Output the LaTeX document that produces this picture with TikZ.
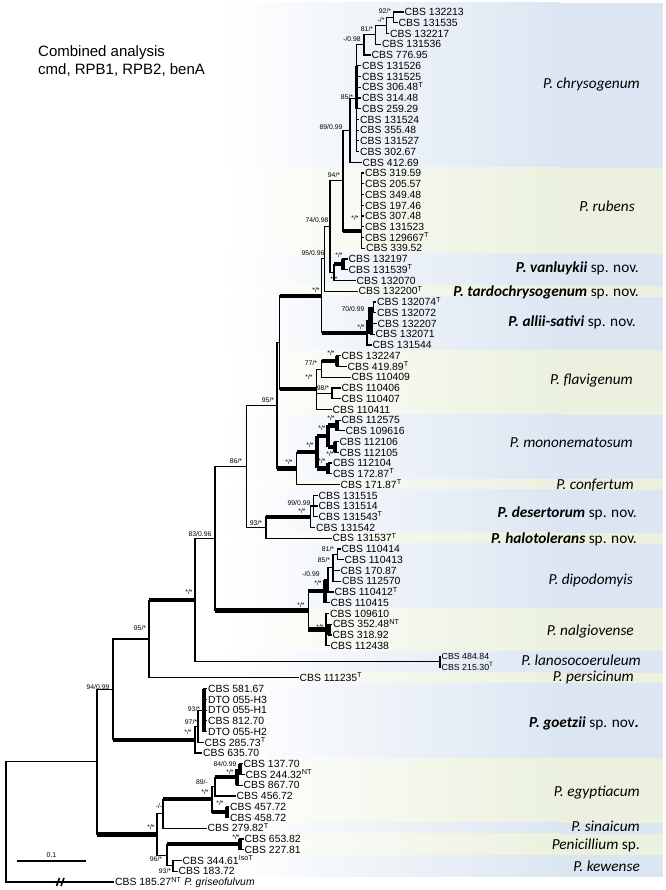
\documentclass[tikz,border=0pt]{standalone}
\usepackage{fontspec}
\setmainfont{Liberation Sans}
\newfontfamily\spfont{Carlito}
\definecolor{bb}{RGB}{220,230,242}
\definecolor{bg}{RGB}{235,241,222}
\newcommand\treev[4][br]{\draw[#1] (#2 |- #3) -- (#2 |- #4);}
\newcommand\treeh[3][br]{\draw[#1] (#2 |- #3) -- (#3);}
\newcommand\bandbox[3]{\shade[left color=white,right color=#3] (220,#1) rectangle (560,#2);\fill[#3] (559.5,#1) rectangle (663,#2);}
\newcommand\Ty{\textsuperscript{T}}
\newcommand\NTy{\textsuperscript{NT}}
\tikzset{
 br/.style={line width=1.2pt,line cap=rect},
 tk/.style={line width=4.2pt},
 tipl/.style={anchor=west,inner sep=0pt,xshift=1.5pt,text height=7.4pt,text depth=0pt,font=\fontsize{10.4}{10}\selectfont},
 supl/.style={inner sep=0pt,text height=4.7pt,text depth=0pt,font=\fontsize{6.8}{7}\selectfont},
 spl/.style={anchor=east,inner sep=0pt,text height=8.4pt,text depth=0pt,font=\spfont\itshape\fontsize{15.3}{16}\selectfont},
}
\begin{document}
\begin{tikzpicture}[x=1pt,y=-1pt]
\useasboundingbox (0,0) rectangle (665,890);
\fill[white] (0,0) rectangle (665,890);
% bands
\bandbox{3}{167.7}{bb}
\bandbox{167.7}{253.6}{bg}
\bandbox{253.6}{285.9}{bb}
\bandbox{285.9}{296.6}{bg}
\bandbox{296.6}{350.3}{bb}
\bandbox{350.3}{414.8}{bg}
\bandbox{414.8}{479.2}{bb}
\bandbox{479.2}{489.9}{bg}
\bandbox{489.9}{532.9}{bb}
\bandbox{532.9}{543.6}{bg}
\bandbox{543.6}{608.1}{bb}
\bandbox{608.1}{651.0}{bg}
\bandbox{651.0}{672.5}{bb}
\bandbox{672.5}{683.2}{bg}
\bandbox{683.2}{758.4}{bb}
\bandbox{758.4}{822.9}{bg}
\bandbox{822.9}{833.6}{bb}
\bandbox{833.6}{855.1}{bg}
\bandbox{855.1}{876.6}{bb}
% title
\node[anchor=west,inner sep=0pt,text height=10.7pt,text depth=0pt,font=\fontsize{15}{15}\selectfont] (title1) at (38,51) {Combined analysis};
\node[anchor=west,inner sep=0pt,text height=10.7pt,text depth=0pt,font=\fontsize{15}{15}\selectfont] (title2) at (38,69.5) {cmd, RPB1, RPB2, benA};
% tips
\foreach \i/\x/\s in {
1/403/CBS 132213, 2/397/CBS 131535, 3/388.5/CBS 132217, 4/380.5/CBS 131536, 5/370/CBS 776.95,
6/360.5/CBS 131526, 7/360.5/CBS 131525, 8/360.5/CBS 306.48\Ty, 9/360.5/CBS 314.48, 10/360.5/CBS 259.29,
11/358.5/CBS 131524, 12/358.5/CBS 355.48, 13/358.5/CBS 131527, 14/358.5/CBS 302.67, 15/361/CBS 412.69,
16/363.5/CBS 319.59, 17/363.5/CBS 205.57, 18/363.5/CBS 349.48, 19/363.5/CBS 197.46, 20/363.5/CBS 307.48,
21/363.5/CBS 131523, 22/363.5/CBS 129667\Ty, 23/364.5/CBS 339.52,
24/347/CBS 132197, 25/347/CBS 131539\Ty, 26/355/CBS 132070, 27/357/CBS 132200\Ty,
28/375.5/CBS 132074\Ty, 29/375.5/CBS 132072, 30/376/CBS 132207, 31/374/CBS 132071, 32/371/CBS 131544,
33/340/CBS 132247, 34/346/CBS 419.89\Ty, 35/350/CBS 110409, 36/340/CBS 110406, 37/340/CBS 110407, 38/331/CBS 110411,
39/340/CBS 112575, 40/344/CBS 109616, 41/338/CBS 112106, 42/338/CBS 112105, 43/331.5/CBS 112104, 44/331.5/CBS 172.87\Ty, 45/339/CBS 171.87\Ty,
46/317/CBS 131515, 47/317/CBS 131514, 48/317/CBS 131543\Ty, 49/314.5/CBS 131542, 50/331/CBS 131537\Ty,
51/340/CBS 110414, 52/343/CBS 110413, 53/339/CBS 170.87, 54/340.5/CBS 112570, 55/333/CBS 110412\Ty, 56/329/CBS 110415,
57/328.5/CBS 109610, 58/331.5/CBS 352.48\NTy, 59/331/CBS 318.92, 60/329/CBS 112438,
63/298/CBS 111235\Ty,
64/206.5/CBS 581.67, 65/206.5/DTO 055-H3, 66/206.5/DTO 055-H1, 67/206.5/CBS 812.70, 68/206.5/DTO 055-H2, 69/203/CBS 285.73\Ty, 70/201.5/CBS 635.70,
71/242/CBS 137.70, 72/244/CBS 244.32\NTy, 73/242/CBS 867.70, 74/235/CBS 456.72, 75/228.5/CBS 457.72, 76/228.5/CBS 458.72, 77/206/CBS 279.82\Ty,
78/243/CBS 653.82, 79/243/CBS 227.81, 80/181/CBS 344.61\textsuperscript{IsoT}, 81/177/CBS 183.72,
82/113.5/CBS 185.27\NTy\ \textit{P. griseofulvum}}{
\coordinate (t\i) at (\x,{12+(\i-1)*10.74});
\node[tipl] (l\i) at (t\i) {\s};
}
\coordinate (t61) at (440,656.4);
\coordinate (t62) at (440,667.14);
\node[tipl,font=\fontsize{8.8}{9}\selectfont,text height=6.3pt] (l61) at (t61) {CBS 484.84};
\node[tipl,font=\fontsize{8.8}{9}\selectfont,text height=6.3pt] (l62) at (t62) {CBS 215.30\Ty};
% internal nodes
\coordinate (A) at (393.7,17.37);
\coordinate (B) at (386.7,25.43);
\coordinate (C) at (375.3,34.83);
\coordinate (D) at (364,44.90);
\coordinate (E) at (356.5,98.26);
\coordinate (F) at (350,130.31);
\coordinate (L) at (361.7,231);
\coordinate (G) at (343,180.66);
\coordinate (K1) at (343,264.39);
\coordinate (K) at (334,272.45);
\coordinate (J) at (330,226.55);
\coordinate (I) at (324.5,258.9);
\coordinate (M1) at (373.5,307.35);
\coordinate (M2) at (370.5,320.78);
\coordinate (M) at (367,332.86);
\coordinate (H) at (321.5,295.88);
\coordinate (S) at (337,361.05);
\coordinate (R) at (321.7,369.1);
\coordinate (T) at (332,393.27);
\coordinate (Q) at (316.7,389.24);
\coordinate (N) at (279.5,342.56);
\coordinate (W1) at (336.7,425.49);
\coordinate (W2) at (335,446.97);
\coordinate (W) at (328.3,436.23);
\coordinate (X) at (328.3,468.45);
\coordinate (V) at (316.7,452.34);
\coordinate (U) at (296.7,468.45);
\coordinate (O) at (277,405.5);
\coordinate (Z1) at (313.3,506.04);
\coordinate (Z) at (310.7,516.78);
\coordinate (Y) at (266,527.52);
\coordinate (P) at (246.7,466.51);
\coordinate (AO) at (337.3,554.37);
\coordinate (AN) at (333,567.8);
\coordinate (AM) at (328,579.88);
\coordinate (AL) at (325,591.29);
\coordinate (AK2) at (329,629.55);
\coordinate (AK) at (326,629.55);
\coordinate (AJ) at (308.3,610.42);
\coordinate (AA) at (215,538.47);
\coordinate (LN) at (440,661.77);
\coordinate (AB) at (195,600.12);
\coordinate (AC) at (149,639);
\coordinate (AH) at (204,710.1);
\coordinate (AG) at (198,726.21);
\coordinate (AF) at (195,739.64);
\coordinate (AD) at (113,689.32);
\coordinate (AV) at (240,769.17);
\coordinate (AU) at (237,777.23);
\coordinate (AW) at (215,786.62);
\coordinate (AT) at (227,812.13);
\coordinate (AS) at (212,799.38);
\coordinate (AQ) at (163,813.81);
\coordinate (AX) at (240,844.35);
\coordinate (AY) at (173,865.83);
\coordinate (AR) at (167,855.09);
\coordinate (AP) at (157,834.45);
\coordinate (AE) at (97,761.89);
\coordinate (RT) at (6,821.9);
% branches: chrysogenum
\treev{A}{t1}{t2} \treeh{A}{t1} \treeh{A}{t2}
\treev{B}{A}{t3} \treeh{B}{A} \treeh{B}{t3}
\treev{C}{B}{t4} \treeh{C}{B} \treeh{C}{t4}
\treev{D}{C}{t5} \treeh{D}{C} \treeh{D}{t5}
\treev{E}{D}{t14} \draw[line width=2.8pt] (E |- t6) -- (E |- t10); \treeh{E}{D}
\foreach \i in {6,...,14}{\treeh{E}{t\i}}
\treev{F}{E}{t15} \treeh{F}{E} \treeh{F}{t15}
% rubens
\treev{L}{t16}{t23} \foreach \i in {16,...,23}{\treeh{L}{t\i}}
\treev{G}{F}{L} \treeh{G}{F} \treeh[tk]{G}{L}
% vanluykii
\treev[tk]{K1}{t24}{t25} \treeh{K1}{t24} \treeh{K1}{t25}
\treev{K}{K1}{t26} \treeh[tk]{K}{K1} \treeh{K}{t26}
\treev{J}{G}{K} \treeh{J}{G} \treeh{J}{K}
\treev{I}{J}{t27} \treeh{I}{J} \treeh{I}{t27}
% allii-sativi
\treev{M1}{t28}{t29} \treeh{M1}{t28} \treeh{M1}{t29}
\treev[tk]{M2}{M1}{t31} \treeh{M2}{M1} \treeh{M2}{t30} \treeh{M2}{t31}
\treev{M}{M2}{t32} \treeh{M}{M2} \treeh{M}{t32}
\treev{H}{I}{M} \treeh{H}{I} \treeh[tk]{H}{M}
% flavigenum
\treev[tk]{S}{t33}{t34} \treeh{S}{t33} \treeh{S}{t34}
\treev{R}{S}{t35} \treeh[tk]{R}{S} \treeh{R}{t35}
\treev{T}{t36}{t37} \treeh{T}{t36} \treeh{T}{t37}
\treev{Q}{R}{t38} \treeh{Q}{R} \treeh{Q}{T} \treeh{Q}{t38}
\treev{N}{H}{Q} \treeh[tk]{N}{H} \treeh[tk]{N}{Q}
% mononematosum
\treev[tk]{W1}{t39}{t40} \treeh{W1}{t39} \treeh{W1}{t40}
\treev[tk]{W2}{t41}{t42} \treeh{W2}{t41} \treeh{W2}{t42}
\treev[tk]{W}{W1}{W2} \treeh[tk]{W}{W1} \treeh[tk]{W}{W2}
\treev[tk]{X}{t43}{t44} \treeh{X}{t43} \treeh{X}{t44}
\treev[tk]{V}{W}{X} \treeh[tk]{V}{W} \treeh[tk]{V}{X}
\treev{U}{V}{t45} \treeh[tk]{U}{V} \treeh{U}{t45}
\treev{O}{N}{U} \treeh{O}{N} \treeh[tk]{O}{U}
% desertorum
\treev{Z1}{t46}{t48} \foreach \i in {46,47,48}{\treeh{Z1}{t\i}}
\treev{Z}{Z1}{t49} \treeh{Z}{Z1} \treeh{Z}{t49}
\treev{Y}{Z}{t50} \treeh[tk]{Y}{Z} \treeh{Y}{t50}
\treev{P}{O}{Y} \treeh{P}{O} \treeh{P}{Y}
% dipodomyis
\treev{AO}{t51}{t52} \treeh{AO}{t51} \treeh{AO}{t52}
\treev{AN}{AO}{t54} \treeh{AN}{AO} \treeh{AN}{t53} \treeh{AN}{t54}
\treev{AM}{AN}{t55} \treeh{AM}{AN} \treeh{AM}{t55}
\treev[tk]{AL}{AM}{t56} \treeh{AL}{AM} \treeh{AL}{t56}
% nalgiovense
\treev[tk]{AK2}{t58}{t59} \treeh{AK2}{t58} \treeh{AK2}{t59}
\treev{AK}{t57}{t60} \treeh{AK}{t57} \treeh{AK}{AK2} \treeh{AK}{t60}
\treev{AJ}{AL}{AK} \treeh[tk]{AJ}{AL} \treeh[tk]{AJ}{AK}
\treev{AA}{P}{AJ} \treeh{AA}{P} \treeh[tk]{AA}{AJ}
% lanosocoeruleum, persicinum
\treev{LN}{t61}{t62}
\treev{AB}{AA}{LN} \treeh{AB}{AA} \treeh{AB}{LN}
\treev{AC}{AB}{t63} \treeh[tk]{AC}{AB} \treeh{AC}{t63}
% goetzii
\treev[tk]{AH}{t64}{t68} \foreach \i in {64,...,68}{\treeh{AH}{t\i}}
\treev{AG}{AH}{t69} \treeh{AG}{AH} \treeh{AG}{t69}
\treev{AF}{AG}{t70} \treeh{AF}{AG} \treeh{AF}{t70}
\treev{AD}{AC}{AF} \treeh{AD}{AC} \treeh[tk]{AD}{AF}
% egyptiacum etc.
\treev[tk]{AV}{t71}{t72} \treeh{AV}{t71} \treeh{AV}{t72}
\treev[tk]{AU}{AV}{t73} \treeh{AU}{AV} \treeh{AU}{t73}
\treev{AW}{AU}{t74} \treeh[tk]{AW}{AU} \treeh{AW}{t74}
\treev[tk]{AT}{t75}{t76} \treeh{AT}{t75} \treeh{AT}{t76}
\treev{AS}{AW}{AT} \treeh{AS}{AW} \treeh[tk]{AS}{AT}
\treev{AQ}{AS}{t77} \treeh[tk]{AQ}{AS} \treeh{AQ}{t77}
\treev[tk]{AX}{t78}{t79} \treeh{AX}{t78} \treeh{AX}{t79}
\treev{AY}{t80}{t81} \treeh{AY}{t80} \treeh{AY}{t81}
\treev{AR}{AX}{AY} \treeh[tk]{AR}{AX} \treeh{AR}{AY}
\treev{AP}{AQ}{AR} \treeh{AP}{AQ} \treeh{AP}{AR}
\treev{AE}{AD}{AP} \treeh{AE}{AD} \treeh[tk]{AE}{AP}
\treev{RT}{AE}{t82} \treeh{RT}{AE} \treeh{RT}{t82}
% break mark
\coordinate (bk1) at (56.5,886); \coordinate (bk2) at (59.5,878);
\coordinate (bk3) at (61,886); \coordinate (bk4) at (64,878);
\draw[line width=1.6pt] (bk1) -- (bk2);
\draw[line width=1.6pt] (bk3) -- (bk4);
% scale bar
\coordinate (sb1) at (17,861); \coordinate (sb2) at (86,861);
\draw[line width=1.2pt] (sb1) -- (sb2);
\node[supl,font=\fontsize{7}{7}\selectfont] (sbl) at (51.5,855) {0.1};
% support values
\foreach \n/\x/\y/\s in {
sA/385/11/{92/*}, sB/381/20/{-/*}, sC/367/29/{81/*}, sD/352/39/{-/0.98}, sE/347/97/{85/*}, sF/331/127/{89/0.99},
sG/334/175/{94/*}, sL/355/218/{*/*}, sJ/317/220/{74/0.98}, sKa/339/255/{*/*}, sK/334/279/{*/*}, sI/313/253/{95/0.96},
sH/316/290/{*/*}, sMa/353/309/{70/0.99}, sM/361/327/{*/*}, sS/331/353/{*/*}, sR/311/363/{77/*}, sQ/309/377/{*/*},
sT/323/388/{98/*}, sO/268/400/{95/*}, sWa/331/418/{*/*}, sW/322/428/{*/*}, sV/310/445/{*/*}, sWb/330/454/{*/*},
sX/322/461/{*/*}, sU/289/462/{*/*}, sP/236/461/{86/*}, sZa/299/503/{99/0.99}, sZ/302/511/{*/*}, sY/256/523/{93/*},
sAA/200/534/{83/0.96}, sAO/328/549/{81/*}, sAN/324/560/{85/*}, sAM/311/574/{-/0.99}, sAL/318/583/{*/*},
sAB/189/592/{*/*}, sAJ/301/605/{*/*}, sAK/320/627/{*/*}, sAC/140/628/{95/*}, sAD/98/687/{94/0.99},
sAH/194/709/{93/*}, sAG/191/722/{97/*}, sAF/188/732/{*/*}, sAV/225/764/{84/0.99}, sAU/230/772/{*/*},
sAW/202/782/{89/-}, sAS/205/792/{*/*}, sAT/220/803/{*/*}, sAQ/159/806/{-/-}, sAE/151/827/{*/*},
sAX/236/837/{*/*}, sAR/156/859/{96/*}, sAY/165/871/{93/*}}{
\node[supl] (\n) at (\x,\y) {\s};
}
% species labels
\node[spl] (n1) at (640,84) {P. chrysogenum};
\node[spl] (n2) at (635,207) {P. rubens};
\node[spl] (n3) at (639,268) {\textbf{P. vanluykii}\upshape\ sp. nov.};
\node[spl] (n4) at (639,292) {\textbf{P. tardochrysogenum}\upshape\ sp. nov.};
\node[spl] (n5) at (636,322) {\textbf{P. allii-sativi}\upshape\ sp. nov.};
\node[spl] (n6) at (633,380) {P. flavigenum};
\node[spl] (n7) at (633,443) {P. mononematosum};
\node[spl] (n8) at (634,485) {P. confertum};
\node[spl] (n9) at (637,513) {\textbf{P. desertorum}\upshape\ sp. nov.};
\node[spl] (n10) at (637,539) {\textbf{P. halotolerans}\upshape\ sp. nov.};
\node[spl] (n11) at (633,580) {P. dipodomyis};
\node[spl] (n12) at (634,631) {P. nalgiovense};
\node[spl] (n13) at (641,661) {P. lanosocoeruleum};
\node[spl] (n14) at (634,677) {P. persicinum};
\node[spl] (n15) at (639,723) {\textbf{P. goetzii}\upshape\ sp. nov\textbf{.}};
\node[spl] (n16) at (640,792) {P. egyptiacum};
\node[spl] (n17) at (640,827) {P. sinaicum};
\node[spl] (n18) at (640,845) {Penicillium\upshape\ sp.};
\node[spl] (n19) at (640,867) {P. kewense};
\end{tikzpicture}
\end{document}
